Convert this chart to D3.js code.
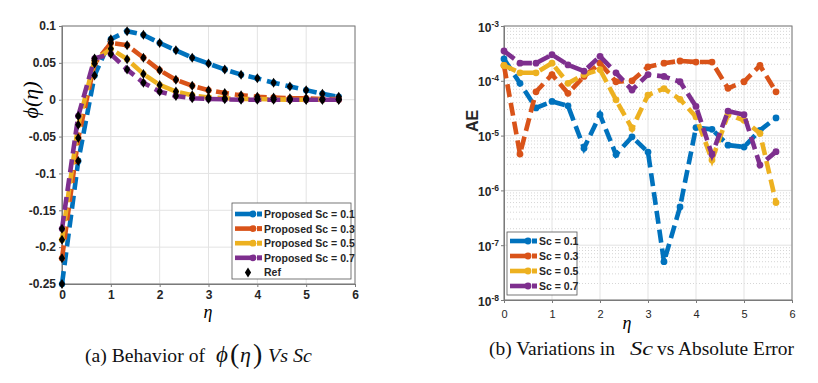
<!DOCTYPE html>
<html>
<head>
<meta charset="utf-8">
<script src="https://cdn.jsdelivr.net/npm/d3@7"></script>
<style>
    body { margin: 0; background: #fff; }
    svg { display: block; }
    .tick text { font-family: "Liberation Sans", Arial, sans-serif; font-weight: bold; fill: #262626; }
</style>
</head>
<body>
<svg id="chart" width="818" height="383"></svg>
<script>
/**
 * Data.
 */
const eta = [0, 0.333, 0.667, 1, 1.333, 1.667, 2, 2.333, 2.667, 3, 3.333, 3.667, 4, 4.333, 4.667, 5, 5.333, 5.667];
const scLabels = ['0.1', '0.3', '0.5', '0.7'];

// Panel (a): phi(eta) for each Sc
const phiSc01 = [-0.25, -0.083, 0.033, 0.082, 0.093, 0.088, 0.077, 0.067, 0.057, 0.049, 0.041, 0.034, 0.029, 0.023, 0.018, 0.013, 0.008, 0.004];
const phiSc03 = [-0.215, -0.052, 0.049, 0.077, 0.074, 0.057, 0.040, 0.027, 0.019, 0.013, 0.009, 0.006, 0.004, 0.003, 0.002, 0.002, 0.001, 0.001];
const phiSc05 = [-0.19, -0.034, 0.053, 0.069, 0.055, 0.035, 0.020, 0.011, 0.006, 0.003, 0.002, 0.001, 0.001, 0.0005, 0, 0, 0, 0];
const phiSc07 = [-0.175, -0.022, 0.056, 0.062, 0.041, 0.023, 0.011, 0.005, 0.002, 0.001, 0.0005, 0, 0, 0, 0, 0, 0, 0];

// Panel (b): absolute error for each Sc
const aeSc01 = [2.5e-4, 9e-5, 3.2e-5, 4.2e-5, 3.5e-5, 5.9e-6, 2.4e-5, 4.5e-6, 9.5e-6, 5e-6, 5e-8, 5e-7, 1.4e-5, 1.3e-5, 6.7e-6, 6.2e-6, 1.25e-5, 2.1e-5];
const aeSc03 = [1.9e-4, 4.6e-6, 6.3e-5, 1.3e-4, 5.9e-5, 1.2e-4, 2.1e-4, 9.6e-5, 1.0e-4, 1.8e-4, 2.1e-4, 2.3e-4, 2.2e-4, 2.2e-4, 7.3e-5, 9.6e-5, 1.9e-4, 6.3e-5];
const aeSc05 = [1.9e-4, 1.4e-4, 1.4e-4, 2.1e-4, 9e-5, 1.3e-4, 1.6e-4, 4.5e-5, 1.35e-5, 5.5e-5, 7.2e-5, 4.6e-5, 2.2e-5, 3.6e-6, 2.4e-5, 1.9e-5, 1.1e-5, 6e-7];
const aeSc07 = [3.5e-4, 2.1e-4, 2.1e-4, 3.0e-4, 1.95e-4, 1.5e-4, 2.8e-4, 1.4e-4, 6.8e-5, 1.3e-4, 1.2e-4, 9.6e-5, 3.4e-5, 4.5e-6, 2.8e-5, 2.4e-5, 2.9e-6, 5.1e-6];

const xTicks = [0, 1, 2, 3, 4, 5, 6];
const phiTicks = [-0.25, -0.2, -0.15, -0.1, -0.05, 0, 0.05, 0.1];
const aeExponents = [-8, -7, -6, -5, -4, -3];

/**
 * Visual configs.
 */
const colors = ['#0072BD', '#D95319', '#EDB120', '#7E2F8E'],
    gridColor = '#e3e3e3',
    boxColor = '#7a7a7a',
    dash = '13,6',
    lineWidth = 4.6,
    diamond = 'M0,-5L3.1,0L0,5L-3.1,0Z',
    serif = '"Liberation Serif", "Times New Roman", serif';

const svg = d3.select('#chart');

/**
 * Panel (a).
 */
function drawPhi() {
    const x = d3.scaleLinear().domain([0, 6]).range([62, 355]);
    const y = d3.scaleLinear().domain([-0.25, 0.1]).range([284, 26]);
    const g = svg.append('g');

    // Grid
    g.append('g').selectAll('line').data(xTicks).join('line')
        .attr('x1', d => x(d)).attr('x2', d => x(d))
        .attr('y1', y.range()[0]).attr('y2', y.range()[1])
        .attr('stroke', gridColor);
    g.append('g').selectAll('line').data(phiTicks).join('line')
        .attr('x1', x.range()[0]).attr('x2', x.range()[1])
        .attr('y1', d => y(d)).attr('y2', d => y(d))
        .attr('stroke', gridColor);

    // Axes
    g.append('g').attr('transform', 'translate(0,' + y.range()[0] + ')')
        .call(d3.axisBottom(x).tickValues(xTicks).tickSize(3).tickPadding(3).tickFormat(d3.format('d')))
        .call(styleAxis);
    g.append('g').attr('transform', 'translate(' + x.range()[0] + ',0)')
        .call(d3.axisLeft(y).tickValues(phiTicks).tickSize(3).tickPadding(3).tickFormat(d => d === 0 ? '0' : String(d)))
        .call(styleAxis);

    drawBox(g, x, y);

    // Series
    const series = [phiSc01, phiSc03, phiSc05, phiSc07];
    const line = d3.line().x((d, i) => x(eta[i])).y(d => y(d));
    series.forEach((s, k) => {
        g.append('path').datum(s)
            .attr('d', line)
            .attr('fill', 'none')
            .attr('stroke', colors[k])
            .attr('stroke-width', lineWidth)
            .attr('stroke-dasharray', dash);
        g.append('g').selectAll('circle').data(s).join('circle')
            .attr('cx', (d, i) => x(eta[i])).attr('cy', d => y(d))
            .attr('r', 3.2).attr('fill', colors[k]);
    });

    // Ref diamonds on top
    series.forEach(s => {
        g.append('g').selectAll('path').data(s).join('path')
            .attr('transform', (d, i) => 'translate(' + x(eta[i]) + ',' + y(d) + ')')
            .attr('d', diamond)
            .attr('fill', '#000');
    });

    // Labels
    svg.append('text').attr('transform', 'translate(38,100) rotate(-90)')
        .attr('text-anchor', 'middle')
        .style('font-family', serif).style('font-style', 'italic').style('font-size', '22px')
        .text('\u03D5(\u03B7)');
    svg.append('text').attr('x', 208).attr('y', 318)
        .attr('text-anchor', 'middle')
        .style('font-family', serif).style('font-style', 'italic').style('font-size', '18px')
        .text('\u03B7');

    // Legend
    const entries = scLabels.map(d => 'Proposed Sc = ' + d);
    const lg = g.append('g').attr('transform', 'translate(232,203)');
    lg.append('rect').attr('width', 119).attr('height', 76)
        .attr('fill', '#fff').attr('stroke', '#555').attr('stroke-width', 0.8);
    entries.forEach((t, k) => {
        const row = lg.append('g').attr('transform', 'translate(0,' + (11 + 14.6 * k) + ')');
        legendSample(row, colors[k]);
        legendText(row, t);
    });
    const ref = lg.append('g').attr('transform', 'translate(0,' + (11 + 14.6 * 4) + ')');
    ref.append('path').attr('transform', 'translate(16,0)').attr('d', diamond).attr('fill', '#000');
    legendText(ref, 'Ref');
}

/**
 * Panel (b).
 */
function drawAE() {
    const x = d3.scaleLinear().domain([0, 6]).range([504, 792]);
    const y = d3.scaleLog().domain([1e-8, 1e-3]).range([300, 26]);
    const g = svg.append('g');

    // Minor grid (dotted) and major grid
    const minor = [];
    aeExponents.slice(0, -1).forEach(e => {
        for (let m = 2; m <= 9; m++) minor.push(m * Math.pow(10, e));
    });
    g.append('g').selectAll('line').data(minor).join('line')
        .attr('x1', x.range()[0]).attr('x2', x.range()[1])
        .attr('y1', d => y(d)).attr('y2', d => y(d))
        .attr('stroke', '#d6d6d6').attr('stroke-dasharray', '1,2');
    g.append('g').selectAll('line').data(xTicks).join('line')
        .attr('x1', d => x(d)).attr('x2', d => x(d))
        .attr('y1', y.range()[0]).attr('y2', y.range()[1])
        .attr('stroke', gridColor);
    g.append('g').selectAll('line').data(aeExponents).join('line')
        .attr('x1', x.range()[0]).attr('x2', x.range()[1])
        .attr('y1', d => y(Math.pow(10, d))).attr('y2', d => y(Math.pow(10, d)))
        .attr('stroke', gridColor);

    // Axes
    g.append('g').attr('transform', 'translate(0,' + y.range()[0] + ')')
        .call(d3.axisBottom(x).tickValues(xTicks).tickSize(3).tickPadding(7).tickFormat(d3.format('d')))
        .call(styleAxis)
        .call(a => a.selectAll('.tick text').style('font-size', '11px').style('font-weight', 'normal'));
    const yAxis = g.append('g').attr('transform', 'translate(' + x.range()[0] + ',0)')
        .call(d3.axisLeft(y).tickValues(aeExponents.map(e => Math.pow(10, e))).tickSize(3).tickPadding(3).tickFormat(''))
        .call(styleAxis);
    yAxis.selectAll('.tick').each(function(d) {
        const t = d3.select(this).append('text').attr('x', -5).attr('y', 5)
            .attr('text-anchor', 'end').attr('fill', '#262626')
            .style('font-family', '"Liberation Sans", Arial, sans-serif').style('font-weight', 'bold').style('font-size', '12px');
        t.append('tspan').text('10');
        t.append('tspan').attr('dy', -5).style('font-size', '8.5px').text(String(Math.round(Math.log10(d))));
    });

    drawBox(g, x, y);

    // Series
    const series = [aeSc01, aeSc03, aeSc05, aeSc07];
    const line = d3.line().x((d, i) => x(eta[i])).y(d => y(d));
    series.forEach((s, k) => {
        g.append('path').datum(s)
            .attr('d', line)
            .attr('fill', 'none')
            .attr('stroke', colors[k])
            .attr('stroke-width', lineWidth)
            .attr('stroke-dasharray', dash);
        g.append('g').selectAll('circle').data(s).join('circle')
            .attr('cx', (d, i) => x(eta[i])).attr('cy', d => y(d))
            .attr('r', 3.4).attr('fill', colors[k]);
    });

    // Labels
    svg.append('text').attr('transform', 'translate(478,121) rotate(-90)')
        .attr('text-anchor', 'middle')
        .style('font-family', '"Liberation Sans", Arial, sans-serif').style('font-weight', 'bold').style('font-size', '16px')
        .attr('fill', '#262626').text('AE');
    svg.append('text').attr('x', 627).attr('y', 329)
        .attr('text-anchor', 'middle')
        .style('font-family', serif).style('font-style', 'italic').style('font-size', '18px')
        .text('\u03B7');

    // Legend
    const lg = g.append('g').attr('transform', 'translate(507,232)');
    lg.append('rect').attr('width', 70).attr('height', 63)
        .attr('fill', '#fff').attr('stroke', '#555').attr('stroke-width', 0.8);
    scLabels.forEach((t, k) => {
        const row = lg.append('g').attr('transform', 'translate(0,' + (9 + 15 * k) + ')');
        legendSample(row, colors[k]);
        legendText(row, 'Sc = ' + t);
    });
}

/**
 * Helpers.
 */
function styleAxis(sel) {
    sel.select('.domain').attr('stroke', boxColor);
    sel.selectAll('.tick line').attr('stroke', boxColor);
    sel.selectAll('.tick text').style('font-size', '12px');
}

function drawBox(g, x, y) {
    g.append('rect')
        .attr('x', x.range()[0]).attr('y', y.range()[1])
        .attr('width', x.range()[1] - x.range()[0]).attr('height', y.range()[0] - y.range()[1])
        .attr('fill', 'none').attr('stroke', boxColor).attr('stroke-width', 1);
}

function legendSample(row, color) {
    row.append('line').attr('x1', 3).attr('x2', 20).attr('y1', 0).attr('y2', 0)
        .attr('stroke', color).attr('stroke-width', lineWidth);
    row.append('circle').attr('cx', 21).attr('cy', 0).attr('r', 3.4).attr('fill', color);
    row.append('rect').attr('x', 25).attr('y', -2.5).attr('width', 5).attr('height', 5).attr('fill', color);
}

function legendText(row, t) {
    row.append('text').attr('x', 32).attr('y', 4)
        .style('font-family', '"Liberation Sans", Arial, sans-serif').style('font-weight', 'bold').style('font-size', '10.5px')
        .attr('fill', '#262626').text(t);
}

function caption(x, y, t, italic, size, len) {
    const el = svg.append('text').attr('x', x).attr('y', y)
        .style('font-family', serif).style('font-size', (size || 19.5) + 'px')
        .style('font-style', italic ? 'italic' : 'normal')
        .attr('fill', '#111').text(t);
    if (len) el.attr('textLength', len).attr('lengthAdjust', 'spacingAndGlyphs');
}

function drawCaptions() {
    // (a)
    caption(85, 362, '(a) Behavior of', false, 19.5, 120);
    caption(216, 362, '\u03D5', true, 23);
    caption(230, 363, '(', false, 28);
    caption(240, 362, '\u03B7', true, 22);
    caption(253, 363, ')', false, 28);
    caption(268, 362, 'Vs Sc', true, 19.5, 44);
    // (b)
    caption(489, 355, '(b) Variations in', false, 19.5, 126);
    caption(630, 355, 'Sc', true, 19.5, 23);
    caption(657, 355, 'vs Absolute Error', false, 19.5, 137);
}

drawPhi();
drawAE();
drawCaptions();
</script>
</body>
</html>
